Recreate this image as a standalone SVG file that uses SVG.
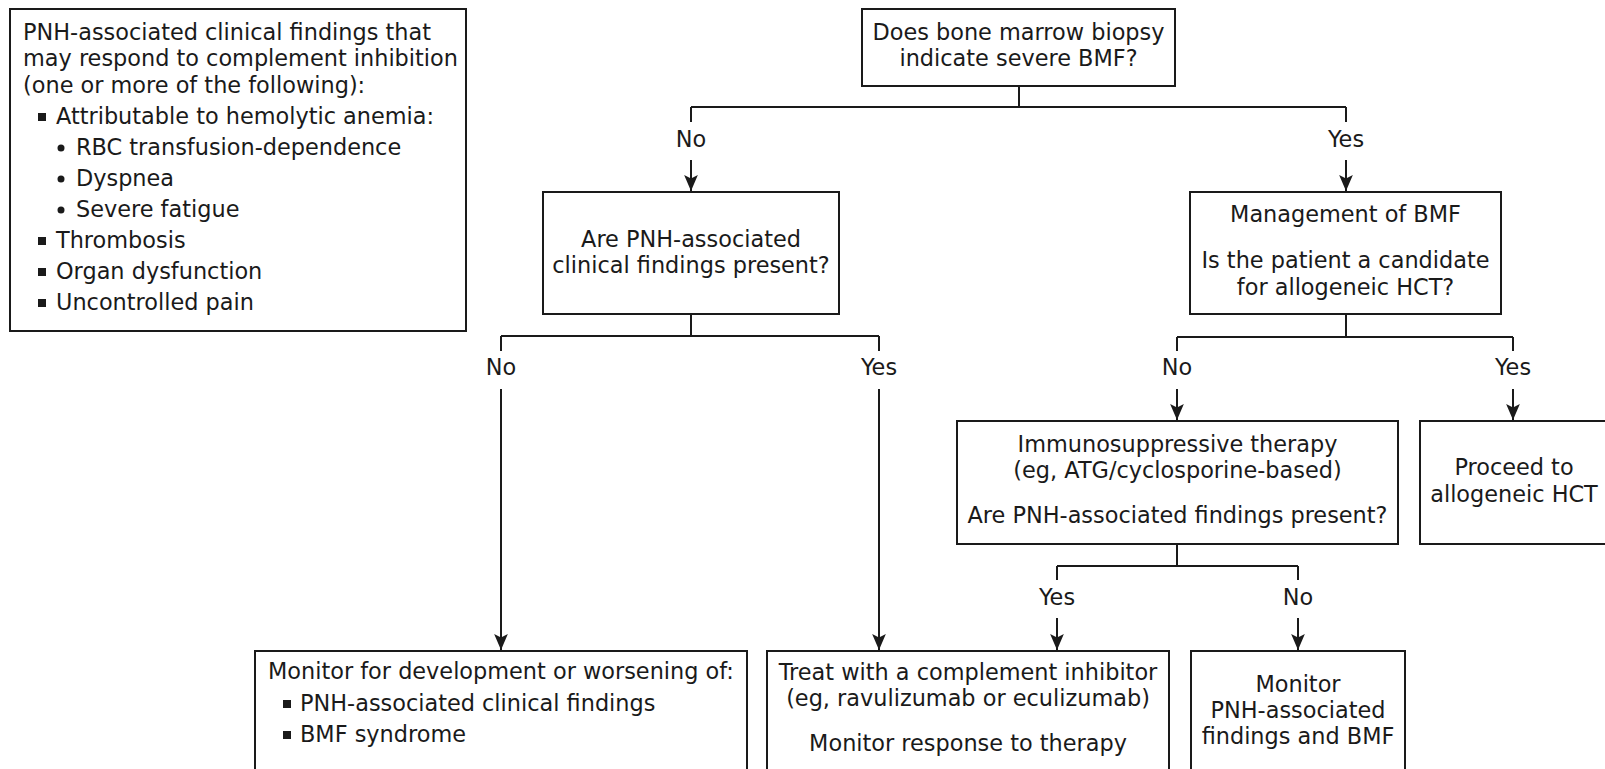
<svg xmlns="http://www.w3.org/2000/svg" width="1605" height="769" viewBox="0 0 1605 769">
<defs>
<style>
.box{fill:#fff;stroke:#1a1a1a;stroke-width:2}
text{font-family:"DejaVu Sans","Verdana",sans-serif;font-size:22.4px;fill:#1a1a1a}
.c{text-anchor:middle}
.ln{fill:none;stroke:#1a1a1a;stroke-width:2}
.bl{fill:#1a1a1a}
</style>
<marker id="ah" markerUnits="userSpaceOnUse" markerWidth="16" markerHeight="14" refX="14" refY="6" orient="auto" viewBox="0 0 14 12">
<path d="M0,0 L14,6 L0,12 L3,6 Z" fill="#1a1a1a"/>
</marker>
</defs>
<rect width="1605" height="769" fill="#fff"/>

<g id="connectors">
<path class="ln" d="M1019,86 V107 M691,107 H1346 M691,107 V122 M1346,107 V122"/>
<path class="ln" d="M691,314 V336 M501,336 H879 M501,336 V351 M879,336 V351"/>
<path class="ln" d="M1346,314 V337 M1177,337 H1513 M1177,337 V351 M1513,337 V351"/>
<path class="ln" d="M1177,544 V566 M1057,566 H1298 M1057,566 V580 M1298,566 V580"/>
<line class="ln" x1="691" y1="160" x2="691" y2="191" marker-end="url(#ah)"/>
<line class="ln" x1="1346" y1="160" x2="1346" y2="191" marker-end="url(#ah)"/>
<line class="ln" x1="501" y1="389" x2="501" y2="650" marker-end="url(#ah)"/>
<line class="ln" x1="879" y1="389" x2="879" y2="650" marker-end="url(#ah)"/>
<line class="ln" x1="1177" y1="389" x2="1177" y2="420" marker-end="url(#ah)"/>
<line class="ln" x1="1513" y1="389" x2="1513" y2="420" marker-end="url(#ah)"/>
<line class="ln" x1="1057" y1="618" x2="1057" y2="650" marker-end="url(#ah)"/>
<line class="ln" x1="1298" y1="618" x2="1298" y2="650" marker-end="url(#ah)"/>
<text class="c" x="691" y="147">No</text>
<text class="c" x="1346" y="147">Yes</text>
<text class="c" x="501" y="375">No</text>
<text class="c" x="879" y="375">Yes</text>
<text class="c" x="1177" y="375">No</text>
<text class="c" x="1513" y="375">Yes</text>
<text class="c" x="1057" y="605">Yes</text>
<text class="c" x="1298" y="605">No</text>
</g>

<g id="legend">
<rect class="box" x="10" y="9" width="456" height="322"/>
<text x="23" y="40">PNH-associated clinical findings that</text>
<text x="23" y="66">may respond to complement inhibition</text>
<text x="23" y="93">(one or more of the following):</text>
<rect class="bl" x="38" y="113" width="8" height="8"/>
<text x="56" y="124">Attributable to hemolytic anemia:</text>
<circle class="bl" cx="61" cy="148" r="3.5"/>
<text x="76" y="155">RBC transfusion-dependence</text>
<circle class="bl" cx="61" cy="179" r="3.5"/>
<text x="76" y="186">Dyspnea</text>
<circle class="bl" cx="61" cy="210" r="3.5"/>
<text x="76" y="217">Severe fatigue</text>
<rect class="bl" x="38" y="237" width="8" height="8"/>
<text x="56" y="248">Thrombosis</text>
<rect class="bl" x="38" y="268" width="8" height="8"/>
<text x="56" y="279">Organ dysfunction</text>
<rect class="bl" x="38" y="299" width="8" height="8"/>
<text x="56" y="310">Uncontrolled pain</text>
</g>

<g id="q-biopsy">
<rect class="box" x="862" y="9" width="313" height="77"/>
<text class="c" x="1018.5" y="40">Does bone marrow biopsy</text>
<text class="c" x="1018.5" y="66">indicate severe BMF?</text>
</g>

<g id="q-pnh">
<rect class="box" x="543" y="192" width="296" height="122"/>
<text class="c" x="691" y="247">Are PNH-associated</text>
<text class="c" x="691" y="273">clinical findings present?</text>
</g>

<g id="mgmt-bmf">
<rect class="box" x="1190" y="192" width="311" height="122"/>
<text class="c" x="1345.5" y="222">Management of BMF</text>
<text class="c" x="1345.5" y="268">Is the patient a candidate</text>
<text class="c" x="1345.5" y="295">for allogeneic HCT?</text>
</g>

<g id="ist">
<rect class="box" x="957" y="421" width="441" height="123"/>
<text class="c" x="1177.5" y="452">Immunosuppressive therapy</text>
<text class="c" x="1177.5" y="478">(eg, ATG/cyclosporine-based)</text>
<text class="c" x="1177.5" y="523">Are PNH-associated findings present?</text>
</g>

<g id="hct">
<rect class="box" x="1420" y="421" width="190" height="123"/>
<text class="c" x="1514" y="475">Proceed to</text>
<text class="c" x="1514" y="502">allogeneic HCT</text>
</g>

<g id="monitor-dev">
<rect class="box" x="255" y="651" width="492" height="140"/>
<text x="268" y="679">Monitor for development or worsening of:</text>
<rect class="bl" x="283" y="700" width="8" height="8"/>
<text x="300" y="711">PNH-associated clinical findings</text>
<rect class="bl" x="283" y="731" width="8" height="8"/>
<text x="300" y="742">BMF syndrome</text>
</g>

<g id="treat">
<rect class="box" x="767" y="651" width="402" height="140"/>
<text class="c" x="968" y="680">Treat with a complement inhibitor</text>
<text class="c" x="968" y="706">(eg, ravulizumab or eculizumab)</text>
<text class="c" x="968" y="751">Monitor response to therapy</text>
</g>

<g id="monitor-pnh">
<rect class="box" x="1191" y="651" width="214" height="140"/>
<text class="c" x="1298" y="692">Monitor</text>
<text class="c" x="1298" y="718">PNH-associated</text>
<text class="c" x="1298" y="744">findings and BMF</text>
</g>
</svg>
